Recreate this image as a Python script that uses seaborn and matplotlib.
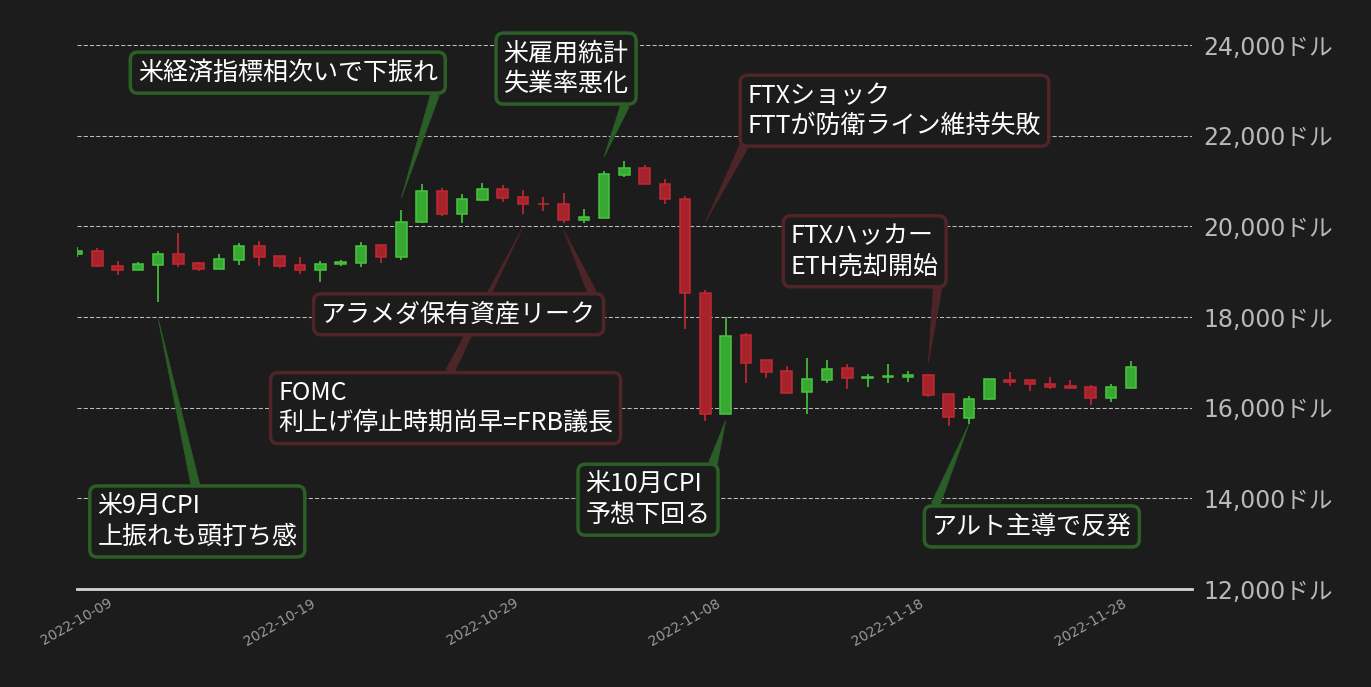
import numpy as np
import pandas as pd
import matplotlib
matplotlib.use("Agg")
import matplotlib.pyplot as plt
import matplotlib.dates as mdates
import seaborn as sns

# daily BTC candles
dates = pd.date_range("2022-10-09", "2022-11-30", freq="D")
opens = [19400, 19450, 19120, 19040, 19150, 19390, 19190, 19065, 19260, 19565,
         19335, 19145, 19040, 19175, 19195, 19585, 19330, 20100, 20780, 20280,
         20590, 20825, 20645, 20500, 20495, 20145, 20190, 21140, 21280, 20930,
         20595, 18540, 15865, 17600, 17045, 16800, 16355, 16620, 16885, 16655,
         16675, 16675, 16715, 16295, 15770, 16190, 16605, 16605, 16515, 16470,
         16450, 16210, 16435]
highs = [19540, 19520, 19235, 19210, 19455, 19850, 19210, 19395, 19630, 19675,
         19345, 19320, 19235, 19255, 19655, 19600, 20360, 20935, 20845, 20715,
         20955, 20915, 20800, 20650, 20735, 20375, 21215, 21445, 21355, 21040,
         20665, 18585, 17990, 17640, 17060, 16915, 17090, 17045, 16955, 16735,
         16955, 16800, 16735, 16300, 16250, 16625, 16780, 16605, 16670, 16605,
         16495, 16515, 17025]
lows = [19330, 19105, 18930, 19030, 18335, 19105, 19010, 19060, 19150, 19130,
        19070, 18950, 18775, 19130, 19105, 19195, 19260, 20080, 20235, 20080,
        20565, 20545, 20280, 20340, 20080, 20080, 20180, 21095, 20925, 20485,
        17725, 15705, 15860, 16545, 16655, 16320, 15860, 16545, 16410, 16455,
        16545, 16565, 16235, 15595, 15635, 16160, 16475, 16360, 16410, 16430,
        16055, 16125, 16430]
closes = [19450, 19130, 19040, 19160, 19390, 19175, 19065, 19275, 19565, 19330,
          19130, 19040, 19180, 19210, 19565, 19330, 20095, 20780, 20280, 20605,
          20825, 20630, 20500, 20485, 20145, 20200, 21150, 21280, 20930, 20595,
          18535, 15865, 17575, 16985, 16785, 16325, 16625, 16860, 16665, 16685,
          16690, 16715, 16280, 15790, 16185, 16625, 16560, 16520, 16455, 16435,
          16210, 16450, 16890]

# annotations: text, arrow tip (date, price), text anchor (date, price), up/down, arrow start on box
ann_texts = ["米9月CPI\n上振れも頭打ち感", "米経済指標相次いで下振れ", "米雇用統計\n失業率悪化",
             "FTXショック\nFTTが防衛ライン維持失敗", "FTXハッカー\nETH売却開始",
             "FOMC\n利上げ停止時期尚早=FRB議長", "アラメダ保有資産リーク",
             "米10月CPI\n予想下回る", "アルト主導で反発"]
ann_tip_dates = ["2022-10-13", "2022-10-25", "2022-11-04", "2022-11-09", "2022-11-20",
                 "2022-10-31", "2022-11-02", "2022-11-10", "2022-11-22"]
ann_tip_prices = [17970, 20625, 21530, 20095, 17000, 19990, 19920, 15720, 15640]
ann_text_dates = ["2022-10-10 00:00", "2022-10-12 00:00", "2022-10-30 01:00",
                  "2022-11-11 02:00", "2022-11-13 05:00", "2022-10-18 22:00",
                  "2022-10-21 01:00", "2022-11-03 02:00", "2022-11-20 04:00"]
ann_text_prices = [13490, 23390, 23480, 22550, 19450, 15990, 18060, 13970, 13380]
ann_kind = ["up", "up", "up", "down", "down", "down", "down", "up", "up"]
ann_relpos = [(0.5, 1), (1, 0), (1, 0), (0, 0), (1, 0), (0.5, 1), (1, 1), (1, 1), (0, 1)]

bg = "#1c1c1c"
sns.set_theme(style="dark", rc={"figure.facecolor": bg, "axes.facecolor": bg,
                                "savefig.facecolor": bg})
plt.rcParams["font.family"] = ["DejaVu Sans", "Noto Sans CJK JP"]
cjk = ["Noto Sans CJK JP", "DejaVu Sans"]

fig = plt.figure(figsize=(13.71, 6.87), dpi=100)
ax = fig.add_axes([77 / 1371, 1 - 589 / 687, 1115 / 1371, 544 / 687])

x = mdates.date2num(dates)
o = np.array(opens)
c = np.array(closes)
up = c >= o
fill = np.where(up, "#37a831", "#a6232c")
edge = np.where(up, "#46c63d", "#c22832")

ax.vlines(x, lows, highs, colors=edge, linewidth=1.2, zorder=2)
ax.bar(x, np.abs(c - o), bottom=np.minimum(o, c), width=0.52, color=fill,
       edgecolor=edge, linewidth=1.1, zorder=3)

box_edge = {"up": "#2c5f27", "down": "#502428"}
arrow_col = {"up": "#2b5d26", "down": "#4d2428"}
for i, t in enumerate(ann_texts):
    k = ann_kind[i]
    ax.annotate(t,
                xy=(mdates.date2num(pd.Timestamp(ann_tip_dates[i])), ann_tip_prices[i]),
                xytext=(mdates.date2num(pd.Timestamp(ann_text_dates[i])), ann_text_prices[i]),
                ha="left", va="center", fontsize=18, color="white", family=cjk,
                bbox=dict(boxstyle="round,pad=0.3", fc=bg, ec=box_edge[k], lw=2.5),
                arrowprops=dict(arrowstyle="wedge,tail_width=0.35,shrink_factor=0.5",
                                fc=arrow_col[k], ec=arrow_col[k], lw=0.5,
                                relpos=ann_relpos[i], shrinkA=0, shrinkB=0),
                zorder=5, annotation_clip=False)

ax.set_ylim(12000, 24000)
ax.set_xlim(mdates.date2num(pd.Timestamp("2022-10-09")),
            mdates.date2num(pd.Timestamp("2022-12-03")))
yticks = np.arange(12000, 24001, 2000)
ax.set_yticks(yticks)
ax.set_yticklabels([f"{v:,}ドル" for v in yticks])
ax.yaxis.tick_right()
ax.tick_params(axis="y", length=0, pad=8, labelsize=17, labelcolor="#b9b9b9")

xticks = pd.date_range("2022-10-09", periods=6, freq="10D")
ax.set_xticks(mdates.date2num(xticks))
ax.set_xticklabels([d.strftime("%Y-%m-%d") for d in xticks], rotation=30, ha="center")
ax.tick_params(axis="x", length=0, pad=5, labelsize=10, labelcolor="#9a9a9a")

ax.yaxis.grid(True, color="#bdbdbd", linestyle=(0, (4, 2)), linewidth=0.75)
ax.xaxis.grid(False)
ax.set_axisbelow(True)
for s in ["top", "left", "right"]:
    ax.spines[s].set_visible(False)
ax.spines["bottom"].set_color("#d4d4d4")
ax.spines["bottom"].set_linewidth(2)

fig.savefig("out.png", dpi=100)
